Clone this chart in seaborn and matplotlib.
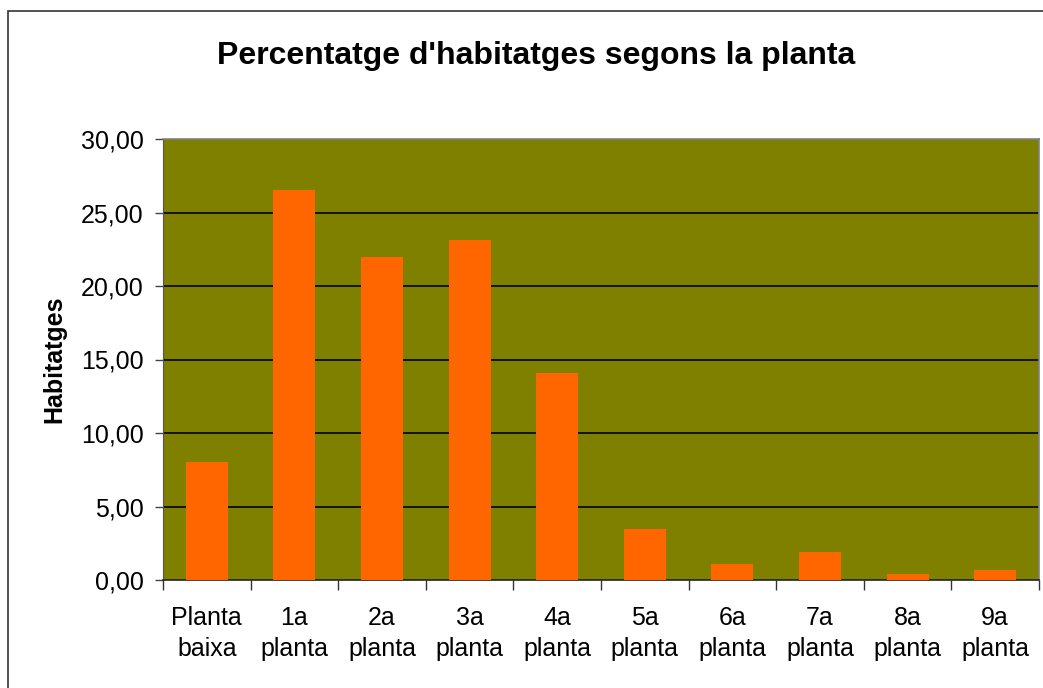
import pandas as pd
import matplotlib
matplotlib.use("Agg")
from matplotlib import pyplot as plt
from matplotlib.patches import Rectangle
from matplotlib.ticker import FixedLocator, FuncFormatter
import seaborn as sb

"""DATA"""
plantes = ["Planta\nbaixa", "1a\nplanta", "2a\nplanta", "3a\nplanta", "4a\nplanta",
           "5a\nplanta", "6a\nplanta", "7a\nplanta", "8a\nplanta", "9a\nplanta"]
percentatge = [8.0, 26.5, 22.0, 23.1, 14.1, 3.5, 1.1, 1.9, 0.4, 0.7]
y_ticks = [0, 5, 10, 15, 20, 25, 30]

"""PLOT"""
sb.set_style("white")
plt.rcParams["font.family"] = ["Liberation Sans", "DejaVu Sans"]
plt.rcParams["text.color"] = "black"
plt.rcParams["axes.labelcolor"] = "black"
plt.rcParams["xtick.color"] = "black"
plt.rcParams["ytick.color"] = "black"

df = pd.DataFrame({"planta": plantes, "pct": percentatge})

fig = plt.figure(figsize=(10.43, 6.88), dpi=100)
ax = fig.add_axes([163 / 1043, 108 / 688, 876 / 1043, 441 / 688])
ax.set_facecolor("#808000")

sb.barplot(data=df, x="planta", y="pct", color="#FF6600", width=0.48,
           saturation=1, linewidth=0, ax=ax, zorder=3)

# gridlines
for v in y_ticks[1:-1]:
    ax.axhline(v, color="black", lw=1.2, zorder=2)

ax.set_ylim(0, 30)
ax.set_xlim(-0.5, len(plantes) - 0.5)
ax.set_yticks(y_ticks)
ax.yaxis.set_major_formatter(FuncFormatter(lambda v, p: f"{v:.2f}".replace(".", ",")))
ax.tick_params(axis="y", left=True, length=6, width=1, color="#444444",
               labelsize=18, pad=8)
ax.tick_params(axis="x", bottom=False, labelsize=18, pad=15)
for lbl in ax.get_xticklabels():
    lbl.set_linespacing(1.4)
ax.xaxis.set_minor_locator(FixedLocator([i - 0.5 for i in range(len(plantes) + 1)]))
ax.tick_params(axis="x", which="minor", bottom=True, length=7, width=1, color="#333333")

for s in ["top", "right"]:
    ax.spines[s].set_color("#808080")
    ax.spines[s].set_linewidth(1.2)
ax.spines["left"].set_color("#555555")
ax.spines["bottom"].set_color("#222222")
ax.spines["bottom"].set_linewidth(1.2)

ax.set_xlabel("")
ax.set_ylabel("Habitatges", fontsize=18, fontweight="bold", labelpad=10)

fig.text(0.514, 1 - 56 / 688, "Percentatge d'habitatges segons la planta",
         ha="center", va="center", fontsize=23, fontweight="bold")

# outer chart border
fig.patches.append(Rectangle((8 / 1043, -0.05), 1.2, 1 - 11 / 688 + 0.05,
                             transform=fig.transFigure, fill=False,
                             edgecolor="#333333", lw=1.2))

plt.savefig("out.png", dpi=100)
plt.close()
